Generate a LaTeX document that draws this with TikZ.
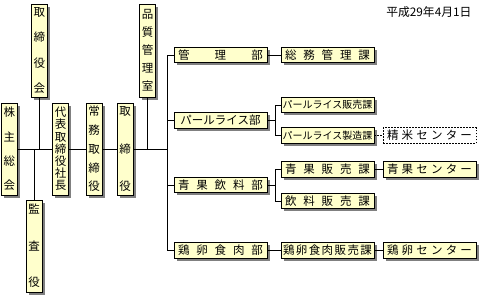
\documentclass[tikz,border=0pt]{standalone}
\usepackage{fontspec}
\setmainfont{Noto Sans CJK JP}
\usetikzlibrary{shadows}
\definecolor{orgfill}{HTML}{FFFFCC}
\newcommand{\vjp}[1]{\fontsize{11.5}{#1}\selectfont}
\tikzset{
  org/.style={draw=black,line width=.8pt,fill=orgfill,inner sep=0pt,
              drop shadow={shadow xshift=2.5pt,shadow yshift=-2.5pt,fill=black!50,opacity=1}},
  vorg/.style={org,minimum width=16pt,minimum height=92pt,align=center},
  horg/.style={org,minimum width=93pt,minimum height=15.5pt,text width=85pt,
               align=center,font=\fontsize{11.5}{13}\selectfont},
  dorg/.style={draw=black,line width=.8pt,dash pattern=on 1.5pt off 1.5pt,fill=white,
               inner sep=0pt,minimum width=93pt,minimum height=15.5pt,text width=85pt,
               align=center,font=\fontsize{11.5}{13}\selectfont},
  ln/.style={line width=.8pt},
}
\begin{document}
\begin{tikzpicture}[x=1pt,y=-1pt]
  \useasboundingbox (0,0) rectangle (480,300);
  \node[anchor=east,font=\fontsize{11.8}{13}\selectfont] (date) at (475,12.5) {平成29年4月1日};
  % top row
  \node[vorg,minimum height=93pt,font=\vjp{25.3pt}] (torikai) at (39.5,50.5) {取\\締\\役\\会};
  \node[vorg,minimum height=93pt,font=\vjp{18pt}] (hinshitsu) at (147.5,50.5) {品\\質\\管\\理\\室};
  % middle row
  \node[vorg,font=\vjp{24.3pt}] (kabu) at (9.5,149) {株\\主\\総\\会};
  \node[vorg,font=\vjp{12.2pt}] (daihyo) at (60.5,149) {代\\表\\取\\締\\役\\社\\長};
  \node[vorg,font=\vjp{18.8pt}] (joumu) at (94,149) {常\\務\\取\\締\\役};
  \node[vorg,font=\vjp{37.5pt}] (tori) at (125,149) {取\\締\\役};
  \node[vorg,font=\vjp{36.5pt}] (kansa) at (34,246) {監\\査\\役};
  % departments
  \node[horg] (kanri) at (220.5,55) {管\hfill 理\hfill 部};
  \node[horg] (pearl) at (220.5,120.5) {パールライス部};
  \node[horg] (seika) at (220.5,185) {青\hfill 果\hfill 飲\hfill 料\hfill 部};
  \node[horg] (keiran) at (220.5,250.5) {鶏\hfill 卵\hfill 食\hfill 肉\hfill 部};
  % sections
  \node[horg] (soumu) at (327.5,55) {総\hfill 務\hfill 管\hfill 理\hfill 課};
  \node[horg,text width=91pt,font=\fontsize{10}{12}\selectfont] (psales) at (327.5,105) {パールライス販売課};
  \node[horg,text width=91pt,font=\fontsize{10}{12}\selectfont] (pmake) at (327.5,135.5) {パールライス製造課};
  \node[horg] (sksales) at (327.5,169.5) {青\hfill 果\hfill 販\hfill 売\hfill 課};
  \node[horg] (inryo) at (327.5,201) {飲\hfill 料\hfill 販\hfill 売\hfill 課};
  \node[horg,text width=89pt] (kesales) at (327.5,250.5) {鶏\hfill 卵\hfill 食\hfill 肉\hfill 販\hfill 売\hfill 課};
  % centers
  \node[dorg] (seimai) at (429.5,135.5) {精\hfill 米\hfill セ\hfill ン\hfill タ\hfill ー};
  \node[horg] (skcenter) at (429.5,169.5) {青\hfill 果\hfill セ\hfill ン\hfill タ\hfill ー};
  \node[horg] (kecenter) at (429.5,250.5) {鶏\hfill 卵\hfill セ\hfill ン\hfill タ\hfill ー};
  % connectors
  \coordinate (trunk) at (167,149);
  \coordinate (pfork) at (275,120.5);
  \coordinate (sfork) at (275,185);
  \draw[ln] (kabu.east) -- (daihyo.west) (daihyo.east) -- (joumu.west)
            (joumu.east) -- (tori.west) (tori.east) -- (trunk);
  \draw[ln] (torikai.south) -- (torikai.south |- kabu.east);
  \draw[ln] (kansa.north) -- (kansa.north |- kabu.east);
  \draw[ln] (hinshitsu.south) -- (hinshitsu.south |- tori.east);
  \draw[ln] (trunk |- kanri.west) -- (trunk |- keiran.west);
  \foreach \n in {kanri,pearl,seika,keiran}
    \draw[ln] (trunk |- \n.west) -- (\n.west);
  \draw[ln] (kanri.east) -- (soumu.west);
  \draw[ln] (pearl.east) -- (pfork);
  \draw[ln] (psales.west) -- (psales.west -| pfork) -- (pmake.west -| pfork) -- (pmake.west);
  \draw[ln,dash pattern=on 1.5pt off 1.5pt] (pmake.east) -- (seimai.west);
  \draw[ln] (seika.east) -- (sfork);
  \draw[ln] (sksales.west) -- (sksales.west -| sfork) -- (inryo.west -| sfork) -- (inryo.west);
  \draw[ln] (sksales.east) -- (skcenter.west);
  \draw[ln] (keiran.east) -- (kesales.west) (kesales.east) -- (kecenter.west);
\end{tikzpicture}
\end{document}
